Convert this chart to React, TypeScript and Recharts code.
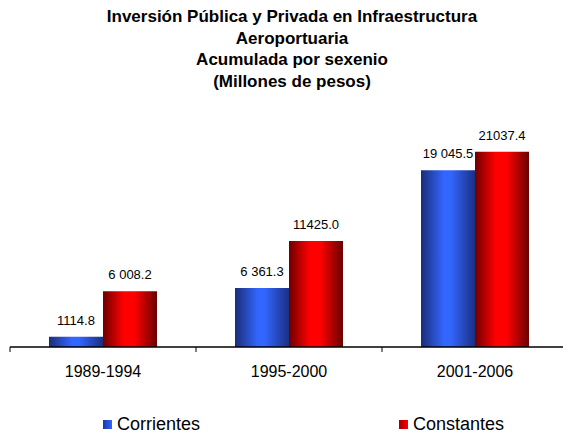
import { Bar, BarChart, LabelList, XAxis, YAxis } from "recharts";

const periodos = ["1989-1994", "1995-2000", "2001-2006"];
const corrientes = [1114.8, 6361.3, 19045.5];
const constantes = [6008.2, 11425.0, 21037.4];
const corrientesTxt = ["1114.8", "6\u00a0361.3", "19\u00a0045.5"];
const constantesTxt = ["6\u00a0008.2", "11425.0", "21037.4"];
const titulo = [
  "Inversión Pública y Privada en Infraestructura",
  "Aeroportuaria",
  "Acumulada por sexenio",
  "(Millones de pesos)",
];

const data = periodos.map((periodo, i) => ({
  periodo,
  corrientes: corrientes[i],
  constantes: constantes[i],
  corrientesTxt: corrientesTxt[i],
  constantesTxt: constantesTxt[i],
}));

const FONT = "'Liberation Sans', Arial, sans-serif";
const HALF_BAND = 93;

function PeriodoTick({ x, y, payload }: any) {
  return (
    <g>
      <line x1={x - HALF_BAND} x2={x - HALF_BAND} y1={y} y2={y + 5} stroke="#000" />
      <text x={x} y={y + 30} textAnchor="middle" fontSize={16} fill="#000" fontFamily={FONT}>
        {payload.value}
      </text>
    </g>
  );
}

function LegendItem({ left, label, bg }: { left: number; label: string; bg: string }) {
  return (
    <div style={{ position: "absolute", left, top: 412, display: "flex", alignItems: "center" }}>
      <span style={{ width: 9, height: 9, background: bg, marginRight: 5, display: "inline-block" }} />
      <span style={{ fontSize: 18, lineHeight: "24px" }}>{label}</span>
    </div>
  );
}

export default function App() {
  return (
    <div
      style={{
        position: "fixed",
        left: 0,
        top: 0,
        width: 563,
        height: 436,
        overflow: "hidden",
        background: "#fff",
        fontFamily: FONT,
        color: "#000",
      }}
    >
      <div
        style={{
          position: "absolute",
          top: 6,
          left: 0,
          width: 584,
          textAlign: "center",
          fontWeight: "bold",
          fontSize: 17,
          lineHeight: "21.7px",
        }}
      >
        {titulo.map((t) => (
          <div key={t}>{t}</div>
        ))}
      </div>
      <div style={{ position: "absolute", left: 0, top: 0 }}>
        <BarChart
          width={580}
          height={436}
          data={data}
          margin={{ top: 115, right: 12, left: 10, bottom: 0 }}
          barGap={0}
          barSize={54}
        >
          <defs>
            <linearGradient id="gAzul" x1="0" y1="0" x2="1" y2="0">
              <stop offset="0%" stopColor="#1a2d78" />
              <stop offset="42%" stopColor="#3366ff" />
              <stop offset="55%" stopColor="#3366ff" />
              <stop offset="100%" stopColor="#1a2f82" />
            </linearGradient>
            <linearGradient id="gRojo" x1="0" y1="0" x2="1" y2="0">
              <stop offset="0%" stopColor="#6e0000" />
              <stop offset="38%" stopColor="#ff0000" />
              <stop offset="58%" stopColor="#ff0000" />
              <stop offset="100%" stopColor="#6a0000" />
            </linearGradient>
          </defs>
          <XAxis
            dataKey="periodo"
            height={89}
            tickSize={0}
            tickMargin={0}
            tickLine={false}
            axisLine={{ stroke: "#000", strokeWidth: 1.5 }}
            tick={<PeriodoTick />}
            interval={0}
          />
          <YAxis hide domain={[0, 25000]} />
          <Bar dataKey="corrientes" fill="url(#gAzul)" isAnimationActive={false}>
            <LabelList dataKey="corrientesTxt" position="top" offset={12} fontSize={13} fill="#000" fontFamily={FONT} />
          </Bar>
          <Bar dataKey="constantes" fill="url(#gRojo)" isAnimationActive={false}>
            <LabelList dataKey="constantesTxt" position="top" offset={12} fontSize={13} fill="#000" fontFamily={FONT} />
          </Bar>
        </BarChart>
      </div>
      <LegendItem left={103} label="Corrientes" bg="linear-gradient(90deg, #1a3aa8, #3366ff)" />
      <LegendItem left={399} label="Constantes" bg="linear-gradient(90deg, #a00000, #ff0000)" />
    </div>
  );
}
